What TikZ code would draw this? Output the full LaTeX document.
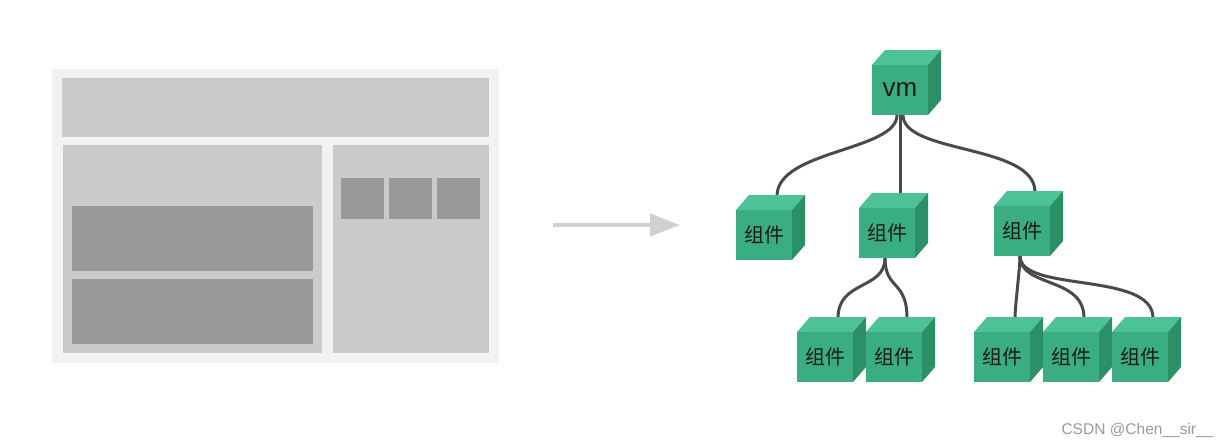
\documentclass[tikz,border=0pt]{standalone}
\usepackage{fontspec}
\usepackage{xcolor}
\usepackage{tikz}
\usetikzlibrary{arrows.meta,backgrounds}
\newfontfamily\cjk{Noto Sans CJK SC}
\newfontfamily\latinsans{Liberation Sans}
\definecolor{pagebg}{HTML}{F2F2F2}
\definecolor{panel}{HTML}{CBCBCB}
\definecolor{block}{HTML}{999999}
\definecolor{cubefront}{HTML}{3AAE80}
\definecolor{cubetopc}{HTML}{4CC295}
\definecolor{cubesidec}{HTML}{2C9066}
\definecolor{wire}{HTML}{4A4A4A}

\begin{document}
\begin{tikzpicture}[x=1pt,y=-1pt,
  cube/.style={fill=cubefront,minimum width=56pt,minimum height=50pt,
               inner sep=0pt,outer sep=0pt,text=black!90,
               font=\cjk\fontsize{20}{22}\selectfont},
  vmcube/.style={cube,font=\latinsans\fontsize{26}{28}\selectfont},
  cubetop/.style={fill=cubetopc},
  cubeside/.style={fill=cubesidec},
  wirel/.style={draw=wire,line width=3pt},
  flow/.style={-{Triangle[length=30pt,width=22pt]},line width=4pt,
               draw=panel!90!white},
  wm/.style={text=black!40,font=\latinsans\fontsize{15.5}{17}\selectfont}
]
\useasboundingbox (0,0) rectangle (1228,447);

% page sketch
\fill[pagebg] (52,69) rectangle (499,363);
\fill[panel] (62,78) rectangle (489,137);
\fill[panel] (63,145) rectangle (322,353);
\fill[panel] (333,145) rectangle (489,353);
\fill[block] (72,206) rectangle (313,271);
\fill[block] (72,279) rectangle (313,344);
\foreach \x in {341,389,437}
  \fill[block] (\x,178) rectangle ++(43,41);

\coordinate (arrS) at (553,225);
\coordinate (arrE) at (680,225);
\draw[flow] (arrS) -- (arrE);

% component tree
\foreach \n/\x/\y/\s/\t in {vm/900/90/vmcube/vm, c1/764/235/cube/组件,
    c2/887/233/cube/组件, c3/1022/231/cube/组件, c21/825/357/cube/组件,
    c22/894/357/cube/组件, c31/1002/357/cube/组件, c32/1071/357/cube/组件,
    c33/1140/357/cube/组件} {
  \node[\s] (\n) at (\x,\y) {\t};
  \fill[cubetop] (\n.north west) -- ([shift={(13,-15)}]\n.north west)
    -- ([shift={(13,-15)}]\n.north east) -- (\n.north east) -- cycle;
  \fill[cubeside] (\n.north east) -- ([shift={(13,-15)}]\n.north east)
    -- ([shift={(13,-15)}]\n.south east) -- (\n.south east) -- cycle;
  \coordinate (\n-t) at ([shift={(13,-14)}]\n.north);
}

\begin{pgfonlayer}{background}
\fill[white] (0,0) rectangle (1228,447);
\draw[wirel] ([xshift=-3pt]vm.south) .. controls +(0,36) and +(0,-46) .. (c1-t);
\draw[wirel] (vm.south) .. controls +(0,30) and +(0,-30) .. (c2-t);
\draw[wirel] ([xshift=3pt]vm.south) .. controls +(0,39) and +(0,-48) .. (c3-t);
\draw[wirel] ([xshift=-2pt]c2.south) .. controls +(0,32) and +(0,-38) .. (c21-t);
\draw[wirel] ([xshift=-2pt]c2.south) .. controls +(0,32) and +(0,-38) .. (c22-t);
\draw[wirel] ([xshift=-2pt]c3.south) .. controls +(0,12) and +(0,-12) .. (c31-t);
\draw[wirel] ([xshift=-2pt]c3.south) .. controls +(0,32) and +(0,-42) .. (c32-t);
\draw[wirel] ([xshift=-2pt]c3.south) .. controls +(0,37) and +(0,-47) .. (c33-t);
\end{pgfonlayer}

\node[wm,anchor=west] (mark) at (1058,430) {CSDN @Chen\_\_sir\_\_};
\end{tikzpicture}
\end{document}
